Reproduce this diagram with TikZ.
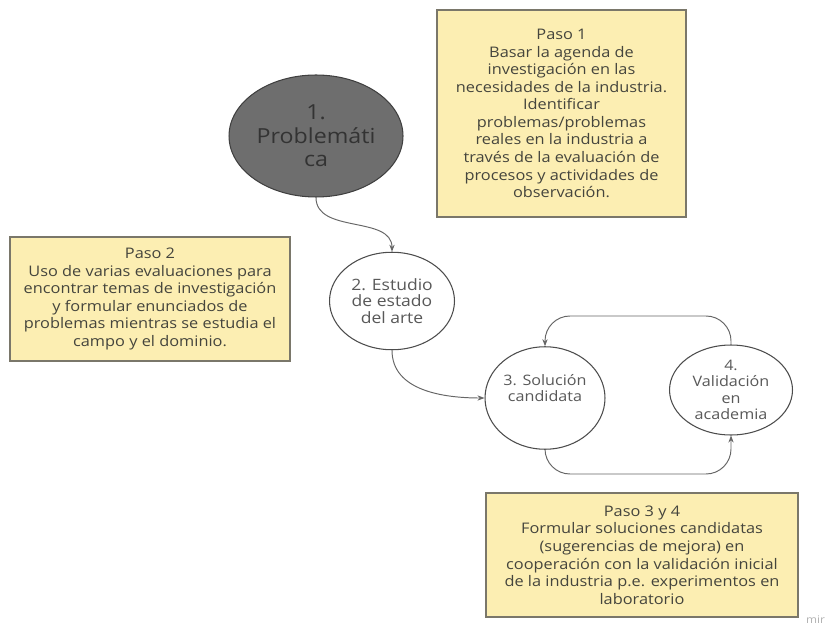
\documentclass[tikz,border=0pt]{standalone}
\usepackage{fontspec}
\setmainfont[FakeStretch=1.12]{Open Sans}
\usetikzlibrary{arrows.meta,shapes.geometric}
\definecolor{notefill}{HTML}{FCEEB2}
\definecolor{noteline}{HTML}{7A776A}
\definecolor{inktext}{HTML}{45453D}
\begin{document}
\begin{tikzpicture}[x=0.02cm,y=0.02cm,
  note/.style={draw=noteline,fill=notefill,line width=0.7pt,text=inktext,
    align=center,inner sep=0pt,font=\fontsize{8.3}{10}\selectfont},
  stage/.style={draw=black!70,ellipse,line width=0.6pt,fill=white,text=black!65,
    align=center,inner sep=0pt,font=\fontsize{8.2}{9.4}\selectfont},
  link/.style={draw=black!60,line width=0.55pt,-{Stealth[length=4pt,width=3pt]}}]
  \useasboundingbox (0,0) rectangle (827,626);
  % notes
  \node[note,minimum width=4.98cm,minimum height=4.14cm] (paso1) at (561.5,512.5)
    {Paso 1\\Basar la agenda de\\investigación en las\\necesidades de la industria.\\Identificar\\problemas/problemas\\reales en la industria a\\través de la evaluación de\\procesos y actividades de\\observación.};
  \node[note,minimum width=5.6cm,minimum height=2.48cm] (paso2) at (150,327)
    {Paso 2\\Uso de varias evaluaciones para\\encontrar temas de investigación\\y formular enunciados de\\problemas mientras se estudia el\\campo y el dominio.};
  \node[note,minimum width=6.24cm,minimum height=2.48cm] (paso34) at (642,71)
    {Paso 3 y 4\\Formular soluciones candidatas\\(sugerencias de mejora) en\\cooperación con la validación inicial\\de la industria p.e. experimentos en\\laboratorio};
  % stages
  \node[stage,fill=black!57,draw=black!75,text=black!80,minimum width=3.48cm,minimum height=2.44cm,
    font=\fontsize{11.8}{13.4}\selectfont] (prob) at (316,490) {1.\\Problemáti\\ca};
  \node[stage,minimum width=2.5cm,minimum height=1.95cm,font=\fontsize{8.9}{9.4}\selectfont] (estado) at (392,325)
    {2. Estudio\\de estado\\del arte};
  \node[stage,minimum width=2.4cm,minimum height=2.05cm] (solucion) at (545,228)
    {3. Solución\\candidata\\[2pt]};
  \node[stage,minimum width=2.46cm,minimum height=1.8cm] (valida) at (731,236)
    {4.\\Validación\\en\\academia};
  \coordinate (loopTop) at (640,310);
  \coordinate (loopBot) at (640,152);
  % links
  \draw[link] (prob.south) to[out=-90,in=90] (estado.north);
  \draw[link] (estado.south) to[out=-90,in=180] (solucion.west);
  \draw[link,rounded corners=0.5cm] (valida.north) |- (loopTop) -| (solucion.north);
  \draw[link,rounded corners=0.5cm] (solucion.south) |- (loopBot) -| (valida.south);
  \node[anchor=south east,text=black!30,inner sep=1pt,font=\fontsize{6}{6}\selectfont] (mark) at (827,0) {mir};
\end{tikzpicture}
\end{document}
